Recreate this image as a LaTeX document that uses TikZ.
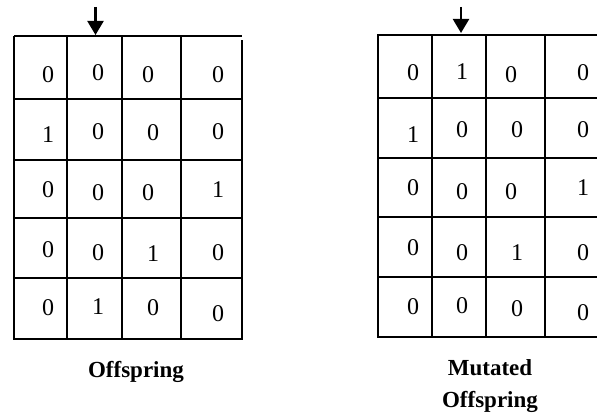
\documentclass[tikz,border=0pt]{standalone}
\usepackage{fontspec}
\setmainfont{Liberation Serif}
\usetikzlibrary{arrows.meta,positioning}

\begin{document}
\begin{tikzpicture}[x=1pt,y=-1pt,line width=2.8pt]
	\useasboundingbox (0,0) rectangle (597,419);
	% left grid (offspring)
	\draw (14,36) -- (242,36);
	\draw (14,36) -- (14,339) -- (242,339) -- (242,40);
	\draw (67,36) -- (67,339);
	\draw (122,36) -- (122,339);
	\draw (181,36) -- (181,339);
	\draw (14,99) -- (242,99);
	\draw (14,160) -- (242,160);
	\draw (14,218) -- (242,218);
	\draw (14,278) -- (242,278);
	% right grid (mutated offspring)
	\draw (597,35) -- (378,35) -- (378,337) -- (597,337);
	\draw (432,35) -- (432,337);
	\draw (486,35) -- (486,337);
	\draw (545,35) -- (545,337);
	\draw (378,98) -- (597,98);
	\draw (378,158) -- (597,158);
	\draw (378,217) -- (597,217);
	\draw (378,277) -- (597,277);
	\begin{scope}[every node/.style={inner sep=0pt,font=\fontsize{24}{28}\selectfont}]
		\node (l11) at (48,75) {0};
		\node (l12) at (98,73) {0};
		\node (l13) at (148,75) {0};
		\node (l14) at (218,75) {0};
		\node (l21) at (48,135) {1};
		\node (l22) at (98,132) {0};
		\node (l23) at (153,133) {0};
		\node (l24) at (218,132) {0};
		\node (l31) at (48,190) {0};
		\node (l32) at (98,193) {0};
		\node (l33) at (148,193) {0};
		\node (l34) at (218,190) {1};
		\node (l41) at (48,250) {0};
		\node (l42) at (98,253) {0};
		\node (l43) at (153,254) {1};
		\node (l44) at (218,253) {0};
		\node (l51) at (48,308) {0};
		\node (l52) at (98,307) {1};
		\node (l53) at (153,308) {0};
		\node (l54) at (218,314) {0};
		\node (r11) at (413,73) {0};
		\node (r12) at (462,72) {1};
		\node (r13) at (511,75) {0};
		\node (r14) at (583,73) {0};
		\node (r21) at (413,135) {1};
		\node (r22) at (462,130) {0};
		\node (r23) at (517,130) {0};
		\node (r24) at (583,130) {0};
		\node (r31) at (413,188) {0};
		\node (r32) at (462,192) {0};
		\node (r33) at (511,192) {0};
		\node (r34) at (583,188) {1};
		\node (r41) at (413,248) {0};
		\node (r42) at (462,253) {0};
		\node (r43) at (517,253) {1};
		\node (r44) at (583,253) {0};
		\node (r51) at (413,307) {0};
		\node (r52) at (462,306) {0};
		\node (r53) at (517,309) {0};
		\node (r54) at (583,313) {0};
	\end{scope}
	\begin{scope}[every node/.style={align=center,font=\fontsize{23}{32}\selectfont\bfseries}]
		\node (off) at (136,372) {Offspring};
		\node (mut) at (490,386) {Mutated\\Offspring};
	\end{scope}
	\coordinate (lpt) at (95.5,7);
	\coordinate (lgrid) at (95.5,35);
	\coordinate (rpt) at (461,7);
	\coordinate (rgrid) at (461,33);
	\draw[-{Triangle[width=16pt,length=14pt]},line width=2.2pt] (lpt) -- (lgrid);
	\draw[-{Triangle[width=16pt,length=14pt]},line width=2.2pt] (rpt) -- (rgrid);
\end{tikzpicture}
\end{document}
